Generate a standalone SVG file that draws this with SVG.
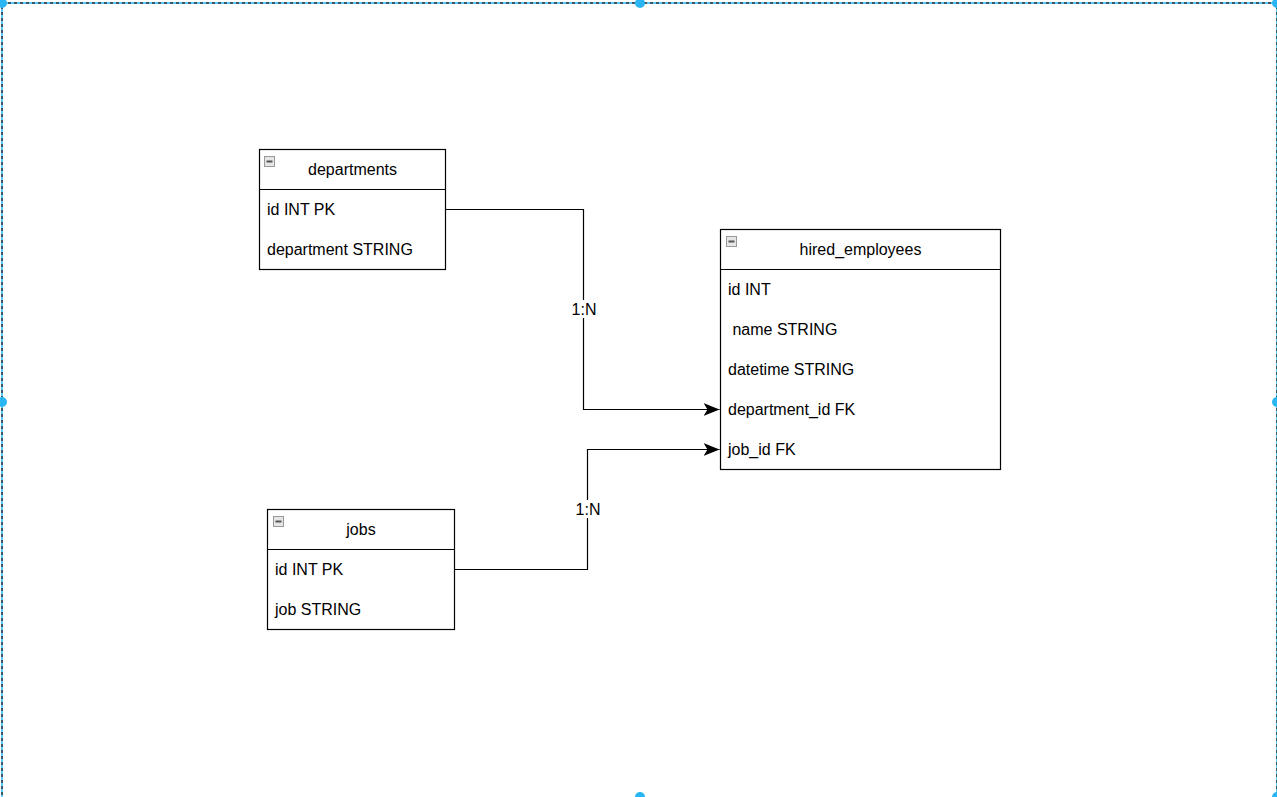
<svg xmlns="http://www.w3.org/2000/svg" width="1277" height="797" viewBox="0 0 1277 797">
<defs>
<style>
.box{fill:#ffffff;stroke:#000000;stroke-width:1.2}
.sep{stroke:#000000;stroke-width:1.2}
.t{font-family:"Liberation Sans",Arial,sans-serif;font-size:16px;fill:#000000}
.c{text-anchor:middle}
.edge{fill:none;stroke:#000000;stroke-width:1.2}
.lbl{font-family:"Liberation Sans",Arial,sans-serif;font-size:16px;fill:#000000;text-anchor:middle}
.ico{fill:#e6e6e6;stroke:#999999;stroke-width:1}
.handle{fill:#29b6f2}
</style>
<marker id="arr" viewBox="0 0 16 14" refX="16" refY="7" markerWidth="16" markerHeight="14" markerUnits="userSpaceOnUse" orient="auto">
<path d="M0,0.5 L16,7 L0,13.5 L4,7 Z" fill="#000000"/>
</marker>
<g id="minus">
<rect class="ico" x="0.5" y="0.5" width="10" height="10"/>
<rect x="2.5" y="4.5" width="6" height="2" fill="#555555"/>
</g>
</defs>
<rect x="0" y="0" width="1277" height="797" fill="#ffffff"/>

<g id="connectors">
<path class="edge" d="M445.5,209.5 H583.5 V409.5 H719.5" marker-end="url(#arr)"/>
<path class="edge" d="M454.5,569.5 H587.5 V449.5 H719.5" marker-end="url(#arr)"/>
<rect x="571" y="300" width="26" height="18" fill="#ffffff"/>
<text class="lbl" x="584" y="315">1:N</text>
<rect x="575" y="500" width="26" height="18" fill="#ffffff"/>
<text class="lbl" x="588" y="515">1:N</text>
</g>

<g id="departments">
<rect class="box" x="259.5" y="149.5" width="186" height="120"/>
<line class="sep" x1="259.5" y1="189.5" x2="445.5" y2="189.5"/>
<use href="#minus" x="264" y="156"/>
<text class="t c" x="352.5" y="175">departments</text>
<text class="t" x="267" y="215">id INT PK</text>
<text class="t" x="267" y="255">department STRING</text>
</g>

<g id="hired_employees">
<rect class="box" x="720.5" y="229.5" width="280" height="240"/>
<line class="sep" x1="720.5" y1="269.5" x2="1000.5" y2="269.5"/>
<use href="#minus" x="726" y="236"/>
<text class="t c" x="860.5" y="255">hired_employees</text>
<text class="t" x="728" y="295">id INT</text>
<text class="t" x="728" y="335" xml:space="preserve"> name STRING</text>
<text class="t" x="728" y="375">datetime STRING</text>
<text class="t" x="728" y="415">department_id FK</text>
<text class="t" x="728" y="455">job_id FK</text>
</g>

<g id="jobs">
<rect class="box" x="267.5" y="509.5" width="187" height="120"/>
<line class="sep" x1="267.5" y1="549.5" x2="454.5" y2="549.5"/>
<use href="#minus" x="273" y="516"/>
<text class="t c" x="361" y="535">jobs</text>
<text class="t" x="275" y="575">id INT PK</text>
<text class="t" x="275" y="615">job STRING</text>
</g>

<g id="selection">
<rect x="2" y="3" width="1275" height="795" fill="none" stroke="#29b6f2" stroke-width="1.5"/>
<rect x="2" y="3" width="1275" height="795" fill="none" stroke="#333333" stroke-width="1.5" stroke-dasharray="3 3"/>
<circle class="handle" cx="2" cy="3" r="5"/>
<circle class="handle" cx="640" cy="3" r="5"/>
<circle class="handle" cx="1277" cy="3" r="5"/>
<circle class="handle" cx="2" cy="402" r="5"/>
<circle class="handle" cx="1277" cy="402" r="5"/>
<circle class="handle" cx="640" cy="797" r="5"/>
<circle class="handle" cx="1277" cy="797" r="5"/>
</g>
</svg>
